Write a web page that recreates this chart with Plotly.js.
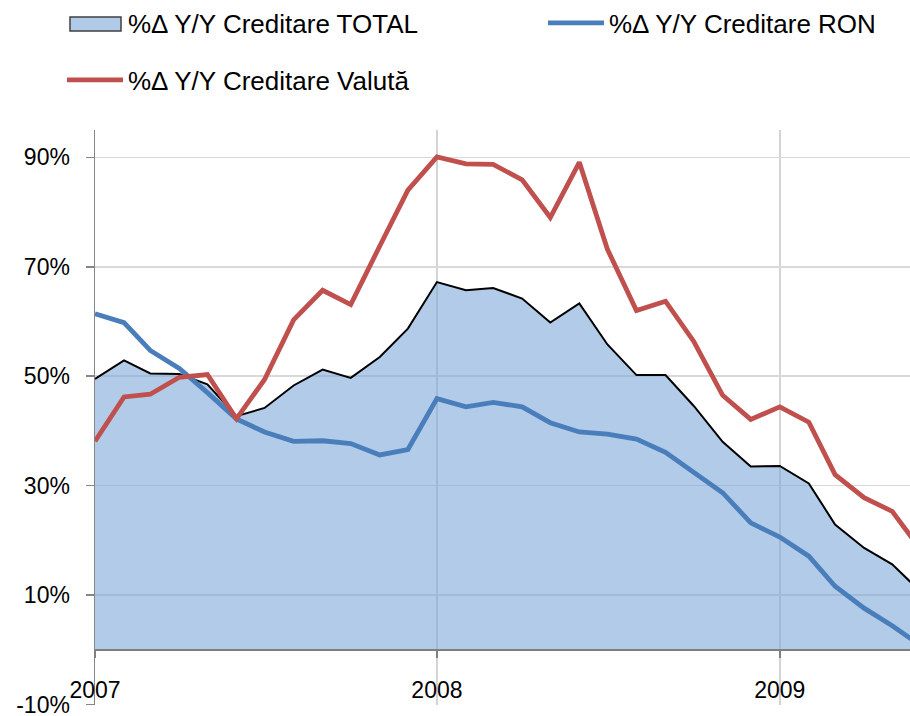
<!DOCTYPE html>
<html>
<head>
<meta charset="utf-8">
<script src="https://cdn.plot.ly/plotly-3.0.1.min.js"></script>
<style>html,body{margin:0;padding:0;background:#fff;}#chart{width:910px;height:716px;}</style>
</head>
<body>
<div id="chart"></div>
<script>
const months = [
  '2007-01-01','2007-02-01','2007-03-01','2007-04-01','2007-05-01','2007-06-01',
  '2007-07-01','2007-08-01','2007-09-01','2007-10-01','2007-11-01','2007-12-01',
  '2008-01-01','2008-02-01','2008-03-01','2008-04-01','2008-05-01','2008-06-01',
  '2008-07-01','2008-08-01','2008-09-01','2008-10-01','2008-11-01','2008-12-01',
  '2009-01-01','2009-02-01','2009-03-01','2009-04-01','2009-05-01','2009-06-01'
];
const creditareTotal = [49.5, 52.9, 50.5, 50.4, 48.5, 42.7, 44.2, 48.3, 51.2, 49.7, 53.5, 58.7,
  67.2, 65.7, 66.1, 64.2, 59.8, 63.3, 55.8, 50.2, 50.2, 44.6, 38.0, 33.5,
  33.6, 30.4, 22.9, 18.6, 15.6, 10.5];
const creditareRON = [61.4, 59.8, 54.7, 51.4, 47.0, 42.2, 39.8, 38.1, 38.2, 37.7, 35.6, 36.6,
  45.9, 44.4, 45.2, 44.4, 41.5, 39.8, 39.4, 38.5, 36.1, 32.5, 28.7, 23.2,
  20.6, 17.1, 11.6, 7.6, 4.4, 0.7];
const creditareValuta = [38.1, 46.2, 46.7, 49.8, 50.3, 42.2, 49.4, 60.3, 65.7, 63.1, 73.8, 84.0,
  90.1, 88.8, 88.7, 85.9, 79.0, 89.1, 73.2, 62.0, 63.7, 56.4, 46.5, 42.1,
  44.4, 41.6, 32.0, 27.8, 25.3, 18.2];
const seriesNames = ['%Δ Y/Y Creditare TOTAL', '%Δ Y/Y Creditare RON', '%Δ Y/Y Creditare Valută'];
const yearTicks = ['2007-01-01', '2008-01-01', '2009-01-01'];
const yearLabels = ['2007', '2008', '2009'];
const yTickVals = [-10, 10, 30, 50, 70, 90];
const yTickText = ['-10%', '10%', '30%', '50%', '70%', '90%'];

const W = 910, H = 716;
const fillRGBA = 'rgba(120,165,215,0.58)';

const traces = [
  {x: months, y: creditareTotal, name: seriesNames[0], type: 'scatter', mode: 'lines',
   fill: 'tozeroy', fillcolor: fillRGBA, line: {color: '#000000', width: 2},
   showlegend: false, legendgroup: 'total'},
  {x: months, y: creditareRON, name: seriesNames[1], type: 'scatter', mode: 'lines',
   line: {color: '#4A7EBB', width: 4.8}, legend: 'legend2'},
  {x: months, y: creditareValuta, name: seriesNames[2], type: 'scatter', mode: 'lines',
   line: {color: '#C0504D', width: 4.8}, legend: 'legend3'},
  // legend entry for the filled TOTAL series (its box symbol is drawn as a shape)
  {x: [null], y: [null], name: seriesNames[0], type: 'scatter', mode: 'lines',
   line: {color: 'rgba(0,0,0,0)', width: 0}, legend: 'legend', legendgroup: 'total', hoverinfo: 'skip'}
];

const tickFont = {family: '"Liberation Sans", Arial, sans-serif', size: 23, color: '#000'};
const legFont = {family: '"Liberation Sans", Arial, sans-serif', size: 26, color: '#000'};
const legCommon = {orientation: 'h', xref: 'container', yref: 'container', xanchor: 'left', yanchor: 'middle',
  font: legFont, itemwidth: 56, bgcolor: 'rgba(0,0,0,0)', borderwidth: 0};

const layout = {
  width: W, height: H,
  margin: {l: 95, r: 0, t: 130, b: 11},
  paper_bgcolor: '#fff', plot_bgcolor: '#fff',
  showlegend: true,
  legend: Object.assign({}, legCommon, {x: 62 / W, y: 1 - 23 / H}),
  legend2: Object.assign({}, legCommon, {x: 543 / W, y: 1 - 23 / H}),
  legend3: Object.assign({}, legCommon, {x: 62 / W, y: 1 - 80 / H}),
  shapes: [
    {type: 'rect', xref: 'paper', yref: 'paper', layer: 'above',
     x0: (70 - 95) / 815, x1: (121 - 95) / 815, y0: (705 - 31) / 575, y1: (705 - 17) / 575,
     fillcolor: '#B0CBE8', line: {color: '#404040', width: 1.5}}
  ],
  xaxis: {
    type: 'date', range: ['2007-01-01', '2009-05-20'],
    tickvals: yearTicks, ticktext: yearLabels,
    anchor: 'free', position: 10.1 / 105.1,
    showline: true, linecolor: '#7f7f7f', linewidth: 2.5,
    ticks: 'outside', ticklen: 7, tickwidth: 2, tickcolor: '#7f7f7f',
    showgrid: true, gridcolor: '#d4d4d4', gridwidth: 1.5,
    zeroline: false, tickfont: tickFont, ticklabelstandoff: 12, ticklabeloverflow: 'allow'
  },
  yaxis: {
    range: [-10.1, 95], tickmode: 'array', tickvals: yTickVals, ticktext: yTickText,
    showline: true, linecolor: '#868686', linewidth: 1.5,
    ticks: 'outside', ticklen: 8, tickwidth: 1.5, tickcolor: '#868686',
    showgrid: true, gridcolor: '#d9d9d9', gridwidth: 1.5,
    zeroline: false, tickfont: tickFont, ticklabelstandoff: 11, ticklabeloverflow: 'allow'
  }
};

Plotly.newPlot('chart', traces, layout, {displayModeBar: false, staticPlot: true});
</script>
</body>
</html>
